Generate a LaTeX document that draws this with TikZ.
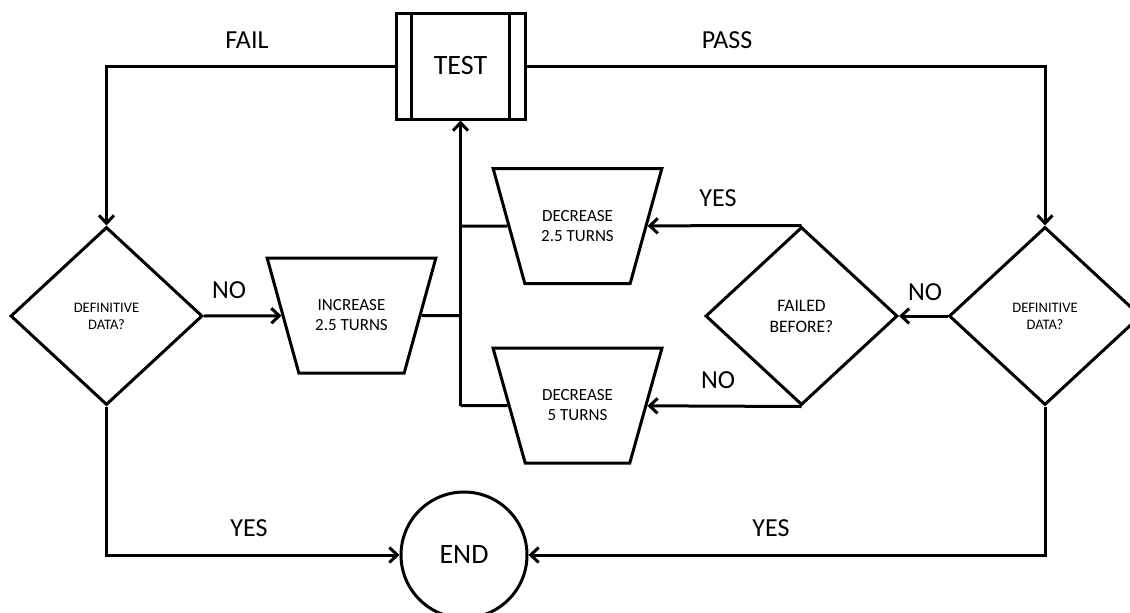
\documentclass[tikz,border=0pt]{standalone}
\usepackage{fontspec}
\setmainfont{Carlito}
\usetikzlibrary{shapes.geometric,arrows.meta}
\tikzset{
	flow/.style={line width=3pt,draw=black},
	arr/.style={flow,-{Straight Barb[length=8pt,width=15pt,line width=3pt]}},
	decide/.style={diamond,draw,line width=3pt,fill=white,minimum width=192pt,minimum height=178pt,inner sep=0pt,align=center,font=\fontsize{14.5}{17}\selectfont},
	adjust/.style={trapezium,shape border rotate=180,trapezium stretches=true,trapezium angle=55,minimum width=169pt,minimum height=115pt,draw,line width=3pt,fill=white,inner sep=0pt,align=center,font=\fontsize{17}{20}\selectfont},
	lbl/.style={font=\fontsize{26}{30}\selectfont,inner sep=0pt},
}
\begin{document}
\begin{tikzpicture}[x=1pt,y=-1pt]
	\useasboundingbox (0,0) rectangle (1130,613);
	%test box
	\node[draw,line width=3pt,fill=white,minimum width=129pt,minimum height=106pt,inner sep=0pt,font=\fontsize{28}{32}\selectfont] (test) at (460.5,66) {TEST};
	\draw[flow] ([xshift=17pt]test.north west) -- ([xshift=17pt]test.south west);
	\draw[flow] ([xshift=-17pt]test.north east) -- ([xshift=-17pt]test.south east);
	%decisions
	\node[decide] (data1) at (106.5,316) {DEFINITIVE\\DATA?};
	\node[decide] (data2) at (1045,316) {DEFINITIVE\\DATA?};
	\node[decide,font=\fontsize{17.5}{21}\selectfont] (failed) at (801.5,316) {FAILED\\BEFORE?};
	%turns
	\node[adjust] (inc) at (351.5,315.5) {INCREASE\\2.5 TURNS};
	\node[adjust] (dec1) at (577.5,226) {DECREASE\\2.5 TURNS};
	\node[adjust] (dec2) at (577.5,405.5) {DECREASE\\5 TURNS};
	%end
	\node[circle,draw,line width=3pt,fill=white,minimum size=126pt,inner sep=0pt,font=\fontsize{28}{32}\selectfont] (end) at (464,555) {END};
	%connectors
	\draw[arr] (test.west) -| (data1.north);
	\draw[arr] (test.east) -| (data2.north);
	\draw[arr] (data1.east) -- (inc);
	\draw[arr] (data2.west) -- (failed);
	\draw[arr] (failed.north) -- (dec1);
	\draw[arr] (failed.south) -- (dec2);
	\draw[flow] (inc -| test.south) -- (inc);
	\draw[flow] (dec1 -| test.south) -- (dec1);
	\draw[flow] (dec2 -| test.south) -- (dec2);
	\draw[arr] (dec2 -| test.south) -- (test.south);
	\draw[arr] (data1.south) |- (end);
	\draw[arr] (data2.south) |- (end);
	%labels
	\node[lbl] (fail) at (247,40) {FAIL};
	\node[lbl] (pass) at (727,40) {PASS};
	\node[lbl] (no1) at (229,290) {NO};
	\node[lbl] (yes1) at (718,198) {YES};
	\node[lbl] (no2) at (718,380) {NO};
	\node[lbl] (no3) at (925,292) {NO};
	\node[lbl] (yes2) at (249,528) {YES};
	\node[lbl] (yes3) at (771,528) {YES};
\end{tikzpicture}
\end{document}
